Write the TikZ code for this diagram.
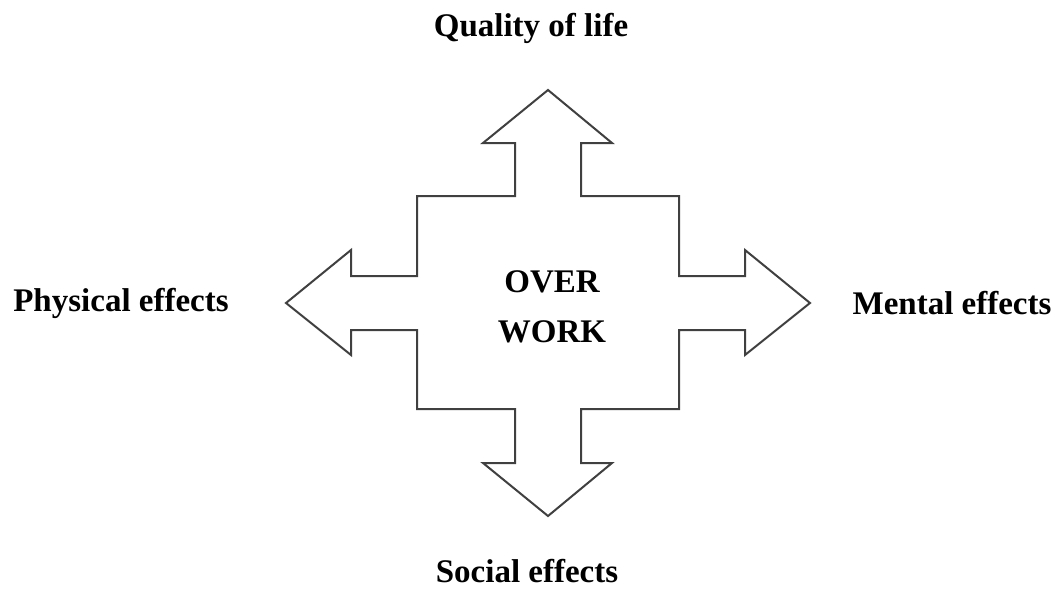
\documentclass[tikz,border=0pt]{standalone}
\usepackage{fontspec}
\setmainfont{Liberation Serif}
\begin{document}
\begin{tikzpicture}[x=1pt,y=-1pt,
  outline/.style={draw=black!75,line width=2pt,line join=miter,fill=white},
  label/.style={font=\bfseries\fontsize{33}{50}\selectfont,text=black,inner sep=0pt,align=center}]
\useasboundingbox (0,0) rectangle (1062,590);
% four-way block arrow around the central square
\draw[outline]
  (548,90) -- (612,143) -- (581,143) -- (581,196) -- (679,196) -- (679,276)
  -- (745,276) -- (745,250) -- (810,303) -- (745,355) -- (745,330) -- (679,330)
  -- (679,409) -- (581,409) -- (581,463) -- (612,463) -- (548,516) -- (483,463)
  -- (515,463) -- (515,409) -- (417,409) -- (417,330) -- (351,330) -- (351,355)
  -- (286,303) -- (351,250) -- (351,276) -- (417,276) -- (417,196) -- (515,196)
  -- (515,143) -- (483,143) -- cycle;
\node[label] (centre) at (552,307) {OVER\\WORK};
\node[label] (top) at (531,28) {Quality of life};
\node[label] (bottom) at (527,571) {Social effects};
\node[label] (left) at (121,303) {Physical effects};
\node[label] (right) at (952,303) {Mental effects};
\end{tikzpicture}
\end{document}
